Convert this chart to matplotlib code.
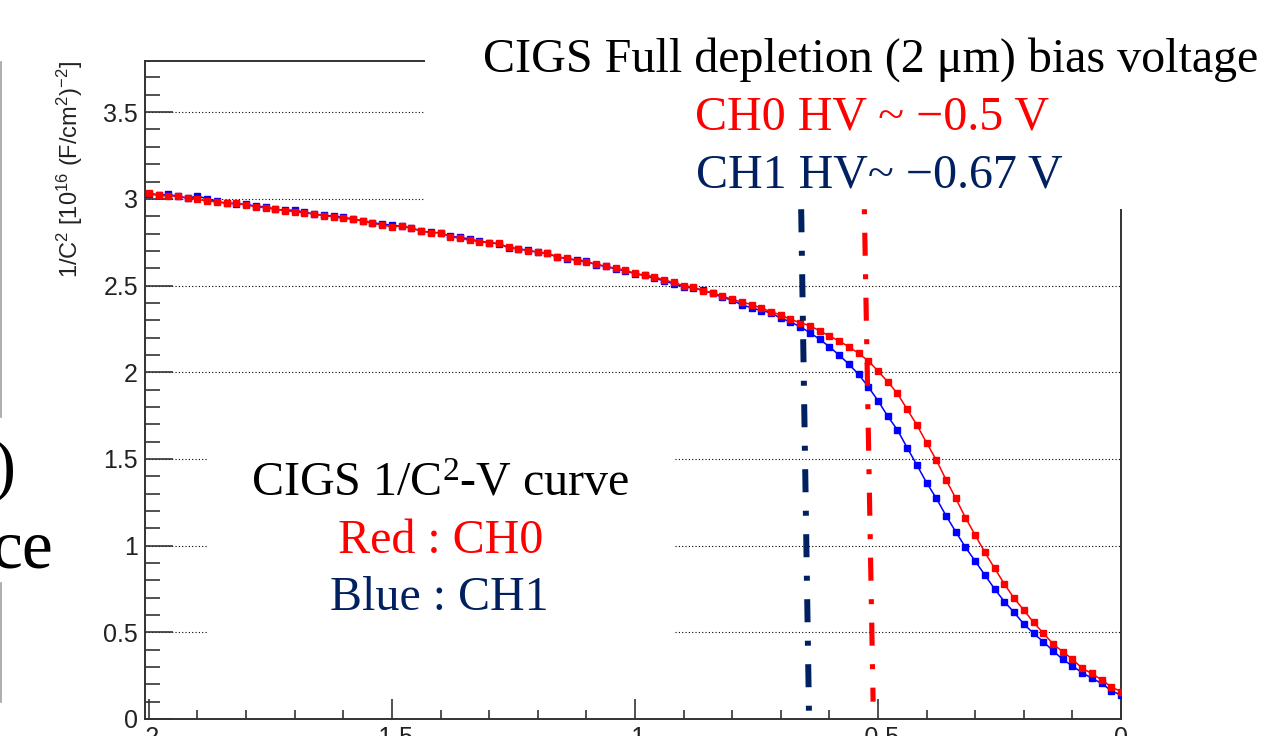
import matplotlib
matplotlib.use("Agg")
import matplotlib.pyplot as plt
from matplotlib.patches import Rectangle
from matplotlib.lines import Line2D
from matplotlib.ticker import MultipleLocator

plt.rcParams['font.family'] = ['Liberation Sans', 'DejaVu Sans']
plt.rcParams['mathtext.default'] = 'regular'
plt.rcParams['lines.scale_dashes'] = False

# bias voltage sweep (V)
volts = [-2.00, -1.98, -1.96, -1.94, -1.92, -1.90, -1.88, -1.86, -1.84, -1.82,
         -1.80, -1.78, -1.76, -1.74, -1.72, -1.70, -1.68, -1.66, -1.64, -1.62,
         -1.60, -1.58, -1.56, -1.54, -1.52, -1.50, -1.48, -1.46, -1.44, -1.42,
         -1.40, -1.38, -1.36, -1.34, -1.32, -1.30, -1.28, -1.26, -1.24, -1.22,
         -1.20, -1.18, -1.16, -1.14, -1.12, -1.10, -1.08, -1.06, -1.04, -1.02,
         -1.00, -0.98, -0.96, -0.94, -0.92, -0.90, -0.88, -0.86, -0.84, -0.82,
         -0.80, -0.78, -0.76, -0.74, -0.72, -0.70, -0.68, -0.66, -0.64, -0.62,
         -0.60, -0.58, -0.56, -0.54, -0.52, -0.50, -0.48, -0.46, -0.44, -0.42,
         -0.40, -0.38, -0.36, -0.34, -0.32, -0.30, -0.28, -0.26, -0.24, -0.22,
         -0.20, -0.18, -0.16, -0.14, -0.12, -0.10, -0.08, -0.06, -0.04, -0.02,
         0.00]

# 1/C^2 in 1e16 (F/cm2)^-2, CH0 (red)
ch0 = [3.035, 3.022, 3.016, 3.016, 3.005, 2.997, 2.987, 2.983, 2.974, 2.974,
       2.964, 2.955, 2.949, 2.941, 2.932, 2.926, 2.920, 2.912, 2.903, 2.897,
       2.887, 2.882, 2.872, 2.859, 2.849, 2.839, 2.843, 2.832, 2.814, 2.805,
       2.805, 2.782, 2.772, 2.762, 2.753, 2.747, 2.743, 2.720, 2.710, 2.701,
       2.693, 2.686, 2.666, 2.657, 2.643, 2.637, 2.622, 2.612, 2.599, 2.589,
       2.570, 2.560, 2.551, 2.532, 2.518, 2.499, 2.490, 2.470, 2.458, 2.439,
       2.420, 2.405, 2.390, 2.370, 2.349, 2.330, 2.305, 2.286, 2.268, 2.239,
       2.209, 2.180, 2.147, 2.109, 2.066, 2.007, 1.945, 1.878, 1.786, 1.696,
       1.593, 1.494, 1.380, 1.273, 1.161, 1.061, 0.961, 0.869, 0.779, 0.696,
       0.629, 0.557, 0.496, 0.433, 0.388, 0.346, 0.292, 0.263, 0.225, 0.186,
       0.158]

# CH1 (blue)
ch1 = [3.030, 3.020, 3.026, 3.014, 3.003, 3.016, 3.000, 2.985, 2.975, 2.972,
       2.968, 2.958, 2.953, 2.940, 2.934, 2.935, 2.922, 2.913, 2.905, 2.900,
       2.893, 2.884, 2.873, 2.862, 2.855, 2.848, 2.841, 2.832, 2.815, 2.806,
       2.804, 2.784, 2.778, 2.768, 2.755, 2.748, 2.740, 2.718, 2.713, 2.703,
       2.692, 2.685, 2.664, 2.655, 2.648, 2.640, 2.620, 2.610, 2.596, 2.585,
       2.568, 2.558, 2.541, 2.528, 2.509, 2.493, 2.486, 2.472, 2.455, 2.432,
       2.416, 2.388, 2.372, 2.355, 2.343, 2.311, 2.291, 2.262, 2.228, 2.190,
       2.147, 2.099, 2.047, 1.988, 1.916, 1.836, 1.747, 1.667, 1.565, 1.465,
       1.363, 1.273, 1.173, 1.080, 0.990, 0.911, 0.830, 0.750, 0.677, 0.615,
       0.548, 0.494, 0.446, 0.394, 0.344, 0.306, 0.267, 0.235, 0.206, 0.163,
       0.138]

# hand drawn full depletion markers (x, y end points)
ch0_mark_x = [-0.528, -0.510]
ch0_mark_y = [2.94, 0.10]
ch1_mark_x = [-0.658, -0.642]
ch1_mark_y = [2.94, 0.04]

x_ticks = [-2, -1.5, -1, -0.5, 0]
x_tick_labels = ['-2', '-1.5', '-1', '-0.5', '0']
y_ticks = [0, 0.5, 1, 1.5, 2, 2.5, 3, 3.5]
y_tick_labels = ['0', '0.5', '1', '1.5', '2', '2.5', '3', '3.5']

NAVY = '#002060'
W, H = 1261, 736

def fx(px):
    return px / W

def fy(py):
    return 1 - py / H

fig = plt.figure(figsize=(W / 100, H / 100), dpi=100)
ax = fig.add_axes([fx(145), fy(719), fx(1121) - fx(145), fy(61) - fy(719)])

ax.plot(volts, ch1, color='#0000ff', lw=1.1, marker='s', ms=4, mec='#0000ff', zorder=3)
ax.plot(volts, ch0, color='#ff0000', lw=1.1, marker='s', ms=4, mec='#ff0000', zorder=4)

# dash-dot pattern (dash, gap, dot, gap) in points
dashdot = (16.6, 13.3, 3.6, 13.3)
ax.plot(ch1_mark_x, ch1_mark_y, color=NAVY, lw=4.3, linestyle=(0, dashdot), zorder=5)
ax.plot(ch0_mark_x, ch0_mark_y, color='#ff0000', lw=3.7, linestyle=(29.9, dashdot), zorder=5)

ax.set_xlim(-2.008, 0)
ax.set_ylim(0, 3.795)
ax.set_xticks(x_ticks)
ax.set_xticklabels(x_tick_labels)
ax.set_yticks(y_ticks)
ax.set_yticklabels(y_tick_labels)
ax.xaxis.set_minor_locator(MultipleLocator(0.1))
ax.yaxis.set_minor_locator(MultipleLocator(0.1))

ax.tick_params(axis='y', which='major', direction='in', length=20, width=1.2,
               color='#333333', labelsize=18, labelcolor='#222222', pad=5)
ax.tick_params(axis='y', which='minor', direction='in', length=10.8, width=1.2, color='#333333')
ax.tick_params(axis='x', which='major', direction='in', length=14.4, width=1.2,
               color='#333333', labelsize=18, labelcolor='#222222', pad=5)
ax.tick_params(axis='x', which='minor', direction='in', length=6.5, width=1.2, color='#333333')

for s in ax.spines.values():
    s.set_color('#333333')
    s.set_linewidth(1.4)

ax.grid(axis='y', which='major', color='black', lw=0.8, linestyle=(0, (0.8, 1.6)))

ax.set_ylabel(r'1/C$^{2}$ [10$^{16}$ (F/cm$^{2}$)$^{-2}$]', fontsize=17, loc='top', color='#222222')
ax.yaxis.set_label_coords(-0.0615, 1.0)

# white slide text boxes laid over the plot
fig.add_artist(Rectangle((fx(425), fy(209)), 1 - fx(425), fy(0) - fy(209),
                         transform=fig.transFigure, facecolor='white', edgecolor='none', zorder=2))
fig.add_artist(Rectangle((fx(207), fy(645)), fx(675) - fx(207), fy(440) - fy(645),
                         transform=fig.transFigure, facecolor='white', edgecolor='none', zorder=2))

serif = ['Liberation Serif', 'DejaVu Serif']
fig.text(fx(871), fy(72), 'CIGS Full depletion (2 \u03bcm) bias voltage', family=serif,
         fontsize=34.6, ha='center', va='baseline', zorder=3)
fig.text(fx(872), fy(130), 'CH0 HV ~ \u22120.5 V', family=serif, color='#ff0000',
         fontsize=34.6, ha='center', va='baseline', zorder=3)
fig.text(fx(879), fy(187), 'CH1 HV~ \u22120.67 V', family=serif, color=NAVY,
         fontsize=34.6, ha='center', va='baseline', zorder=3)

fig.text(fx(440), fy(496), r'CIGS 1/C$^{2}$-V curve', family=serif,
         fontsize=34.6, ha='center', va='baseline', zorder=3)
fig.text(fx(441), fy(553), 'Red : CH0', family=serif, color='#ff0000',
         fontsize=34.6, ha='center', va='baseline', zorder=3)
fig.text(fx(439), fy(610), 'Blue : CH1', family=serif, color=NAVY,
         fontsize=34.6, ha='center', va='baseline', zorder=3)

# pieces of the slide left of the plot
fig.text(fx(16), fy(488), ')', family=serif, fontsize=50, ha='right', va='baseline')
fig.text(fx(53), fy(567), 'ce', family=serif, fontsize=50, ha='right', va='baseline')
fig.add_artist(Line2D([fx(1), fx(1)], [fy(62), fy(417)], color='#a0a0a0', lw=1.2))
fig.add_artist(Line2D([fx(1), fx(1)], [fy(583), fy(702)], color='#a0a0a0', lw=1.2))

fig.savefig('out.png', dpi=100)
